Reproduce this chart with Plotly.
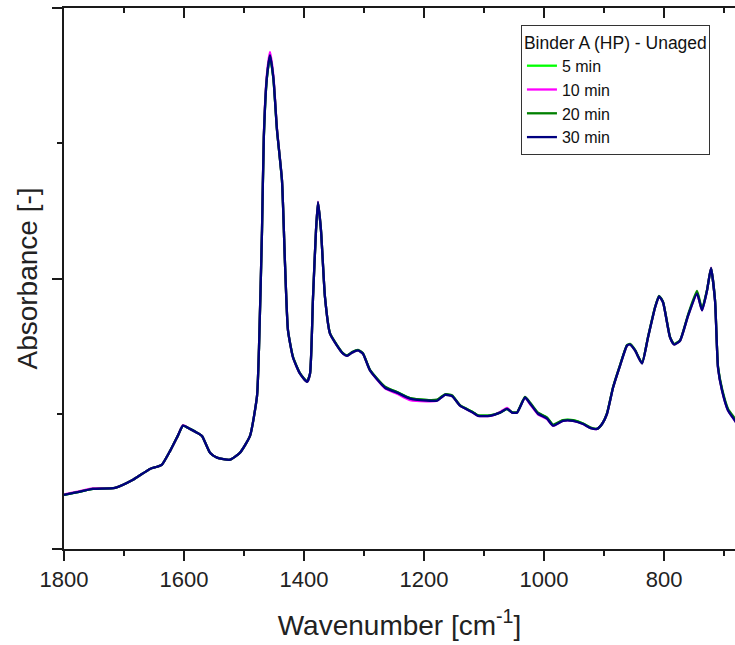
import plotly.graph_objects as go

# Wavenumber grid (cm^-1)
wavenumber = [1800, 1781.7, 1751.7, 1715, 1685, 1656.7, 1645, 1636.7, 1623.3, 1610,
              1601.7, 1590, 1578.3, 1570, 1556.7, 1545, 1523.3, 1506.7, 1490, 1478.3,
              1475, 1470, 1467, 1462, 1456.7, 1451, 1445, 1436.7, 1431.7, 1426.7,
              1418.3, 1406.7, 1395, 1390, 1385, 1380, 1376.7, 1371.7, 1365, 1356.7,
              1345, 1335, 1328.3, 1320, 1310, 1301.7, 1290, 1265, 1245, 1223.3,
              1190, 1178.3, 1165, 1153.3, 1140, 1118.3, 1110, 1090, 1073.3, 1061.7,
              1053.3, 1045, 1031.7, 1023.3, 1010, 995, 985, 968.3, 951.7, 935,
              923.3, 911.7, 903.3, 895, 885, 873.3, 861.7, 856.7, 848.3, 836.7,
              826.7, 815, 808.3, 801.7, 790, 783.3, 773.3, 760, 745, 736.7,
              728.3, 721.7, 715, 710, 703.3, 693.3, 681.7, 675]

abs_5min = [0.100, 0.104, 0.111, 0.113, 0.128, 0.148, 0.152, 0.156, 0.181, 0.210,
            0.228, 0.222, 0.215, 0.209, 0.178, 0.169, 0.165, 0.178, 0.209, 0.283,
            0.372, 0.589, 0.760, 0.870, 0.912, 0.870, 0.774, 0.681, 0.528, 0.404,
            0.354, 0.324, 0.309, 0.324, 0.465, 0.589, 0.641, 0.589, 0.465, 0.398,
            0.376, 0.361, 0.357, 0.363, 0.367, 0.361, 0.330, 0.299, 0.290, 0.279,
            0.275, 0.275, 0.285, 0.283, 0.265, 0.253, 0.247, 0.247, 0.252, 0.259,
            0.252, 0.252, 0.280, 0.269, 0.251, 0.243, 0.229, 0.238, 0.238, 0.232,
            0.224, 0.222, 0.231, 0.250, 0.298, 0.339, 0.376, 0.378, 0.367, 0.343,
            0.391, 0.446, 0.467, 0.456, 0.391, 0.378, 0.385, 0.431, 0.474, 0.442,
            0.478, 0.519, 0.460, 0.336, 0.294, 0.257, 0.238, 0.226]

abs_10min = [0.101, 0.105, 0.112, 0.113, 0.128, 0.148, 0.152, 0.156, 0.181, 0.210,
             0.229, 0.222, 0.215, 0.209, 0.178, 0.169, 0.165, 0.178, 0.209, 0.283,
             0.373, 0.591, 0.764, 0.875, 0.919, 0.874, 0.776, 0.682, 0.528, 0.404,
             0.354, 0.324, 0.309, 0.324, 0.465, 0.590, 0.642, 0.589, 0.465, 0.398,
             0.376, 0.361, 0.357, 0.363, 0.367, 0.361, 0.330, 0.297, 0.287, 0.275,
             0.273, 0.274, 0.285, 0.283, 0.265, 0.252, 0.246, 0.246, 0.253, 0.261,
             0.252, 0.252, 0.280, 0.268, 0.249, 0.240, 0.228, 0.237, 0.237, 0.231,
             0.224, 0.222, 0.231, 0.250, 0.298, 0.339, 0.376, 0.378, 0.367, 0.343,
             0.391, 0.446, 0.467, 0.456, 0.391, 0.378, 0.385, 0.431, 0.472, 0.441,
             0.478, 0.520, 0.459, 0.335, 0.293, 0.256, 0.237, 0.225]

abs_20min = [0.100, 0.104, 0.111, 0.113, 0.128, 0.148, 0.152, 0.156, 0.181, 0.210,
             0.228, 0.222, 0.215, 0.209, 0.178, 0.169, 0.165, 0.178, 0.209, 0.283,
             0.372, 0.589, 0.760, 0.869, 0.911, 0.869, 0.774, 0.681, 0.528, 0.404,
             0.355, 0.325, 0.310, 0.324, 0.465, 0.589, 0.640, 0.589, 0.465, 0.399,
             0.377, 0.362, 0.358, 0.364, 0.368, 0.362, 0.331, 0.300, 0.290, 0.279,
             0.275, 0.276, 0.286, 0.284, 0.266, 0.253, 0.247, 0.247, 0.252, 0.259,
             0.253, 0.253, 0.281, 0.271, 0.252, 0.243, 0.230, 0.238, 0.238, 0.232,
             0.225, 0.222, 0.231, 0.251, 0.299, 0.340, 0.377, 0.379, 0.368, 0.344,
             0.392, 0.447, 0.468, 0.457, 0.392, 0.379, 0.386, 0.433, 0.477, 0.444,
             0.479, 0.519, 0.460, 0.337, 0.296, 0.259, 0.241, 0.229]

abs_30min = [0.100, 0.104, 0.111, 0.113, 0.128, 0.148, 0.152, 0.156, 0.181, 0.210,
             0.228, 0.222, 0.215, 0.209, 0.178, 0.169, 0.165, 0.178, 0.209, 0.283,
             0.372, 0.589, 0.760, 0.870, 0.913, 0.870, 0.774, 0.681, 0.528, 0.404,
             0.354, 0.324, 0.309, 0.324, 0.465, 0.589, 0.641, 0.589, 0.465, 0.398,
             0.376, 0.361, 0.357, 0.363, 0.367, 0.361, 0.330, 0.298, 0.289, 0.278,
             0.274, 0.274, 0.285, 0.283, 0.265, 0.252, 0.246, 0.246, 0.252, 0.259,
             0.252, 0.252, 0.280, 0.269, 0.250, 0.241, 0.228, 0.237, 0.237, 0.231,
             0.224, 0.222, 0.231, 0.250, 0.298, 0.339, 0.376, 0.378, 0.367, 0.343,
             0.391, 0.446, 0.467, 0.456, 0.391, 0.378, 0.385, 0.431, 0.472, 0.441,
             0.478, 0.519, 0.459, 0.335, 0.293, 0.256, 0.237, 0.225]

series_names = ["5 min", "10 min", "20 min", "30 min"]
series_values = [abs_5min, abs_10min, abs_20min, abs_30min]
series_colors = ["#00FF00", "#FF00FF", "#008000", "#000080"]

FONT = "Arial, Liberation Sans, sans-serif"
AXC = "#1a1a1a"

fig = go.Figure()
for name, vals, col in zip(series_names, series_values, series_colors):
    fig.add_trace(go.Scatter(
        x=wavenumber, y=vals, mode="lines", name=name,
        line=dict(color=col, width=2.3, shape="spline", smoothing=0.5),
    ))

# invisible trace for the top mirror axis
fig.add_trace(go.Scatter(x=[wavenumber[0]], y=[abs_30min[0]], xaxis="x2",
                         mode="lines", showlegend=False, hoverinfo="skip",
                         line=dict(color="rgba(0,0,0,0)")))

xrange = [1800, 681.7]
fig.update_layout(
    width=735, height=645,
    margin=dict(l=64, r=0, t=8, b=96),
    paper_bgcolor="white", plot_bgcolor="white",
    font=dict(family=FONT, color="#222"),
    showlegend=True,
    legend=dict(
        x=0.681, y=0.9685, xanchor="left", yanchor="top",
        bgcolor="white", bordercolor="#333", borderwidth=1,
        font=dict(size=16, family=FONT, color="#111"),
        title=dict(text="Binder A (HP) - Unaged", side="top",
                   font=dict(size=17.5, family=FONT, color="#111")),
        tracegroupgap=0, itemwidth=30,
    ),
    xaxis=dict(
        range=xrange, autorange=False,
        showline=True, linecolor=AXC, linewidth=2,
        ticks="outside", ticklen=10, tickwidth=2, tickcolor=AXC,
        tickmode="linear", tick0=1800, dtick=200,
        minor=dict(ticks="outside", ticklen=5, tickwidth=2, tickcolor=AXC, dtick=100, tick0=1800),
        showgrid=False, zeroline=False,
        tickfont=dict(size=22, family=FONT, color="#222"),
        title=dict(text="Wavenumber [cm<sup>-1</sup>]", font=dict(size=28, family=FONT, color="#222"),
                   standoff=24),
        automargin=False,
    ),
    xaxis2=dict(
        range=xrange, autorange=False, overlaying="x", side="top", anchor="y",
        matches="x",
        showline=True, linecolor=AXC, linewidth=2,
        ticks="inside", ticklen=10, tickwidth=2, tickcolor=AXC,
        tickmode="linear", tick0=1800, dtick=200,
        minor=dict(ticks="inside", ticklen=5, tickwidth=2, tickcolor=AXC, dtick=100, tick0=1800),
        showticklabels=False, showgrid=False, zeroline=False,
    ),
    yaxis=dict(
        range=[0, 1.0], autorange=False,
        showline=True, linecolor=AXC, linewidth=2,
        ticks="outside", ticklen=10, tickwidth=2, tickcolor=AXC,
        tickmode="linear", tick0=0, dtick=0.5,
        minor=dict(ticks="outside", ticklen=5, tickwidth=2, tickcolor=AXC, dtick=0.25, tick0=0),
        showticklabels=False, showgrid=False, zeroline=False,
        title=dict(text="Absorbance [-]", font=dict(size=28, family=FONT, color="#222"),
                   standoff=6),
        automargin=False,
    ),
)

fig.write_html("out.html")
